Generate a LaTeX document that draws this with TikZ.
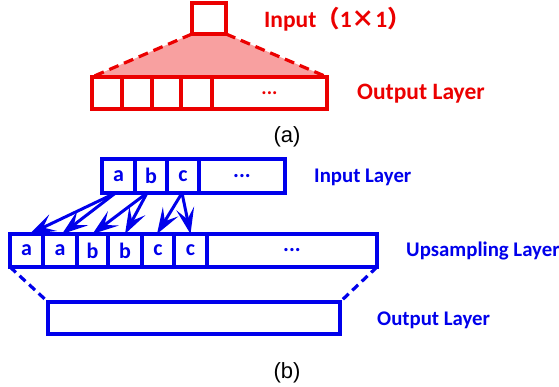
\documentclass[tikz,border=0pt]{standalone}
\usepackage{fontspec}
\setmainfont{Carlito}
\newfontfamily\cjkfont{Noto Sans CJK SC}
\newfontfamily\arialfont{Liberation Sans}
\usetikzlibrary{arrows.meta}
\definecolor{myred}{RGB}{235,0,0}
\definecolor{mypink}{RGB}{248,160,160}
\definecolor{myblue}{RGB}{0,0,235}
\tikzset{
  rcell/.style={draw=myred, line width=3.2pt, inner sep=0pt, outer sep=0pt, minimum height=32pt},
  bcell/.style={draw=myblue, line width=3.2pt, inner sep=0pt, outer sep=0pt, minimum height=33pt, text=myblue, font=\fontsize{22}{22}\selectfont\bfseries},
  rlabel/.style={text=myred, font=\fontsize{23.5}{23.5}\selectfont\bfseries, inner sep=0pt, anchor=base west},
  blabel/.style={text=myblue, font=\fontsize{20.8}{20.8}\selectfont\bfseries, inner sep=0pt, anchor=base west},
  caplabel/.style={font=\arialfont\fontsize{22}{22}\selectfont, inner sep=0pt, anchor=base},
  upar/.style={draw=myblue, line width=3pt, arrows={-Stealth[length=26pt, width=18pt, inset=11pt]}},
  rdash/.style={draw=myred, line width=3.2pt, dash pattern=on 10pt off 6pt},
  bdash/.style={draw=myblue, line width=3.2pt, dash pattern=on 8pt off 5pt}
}
\begin{document}
\begin{tikzpicture}[x=1pt,y=-1pt]
\useasboundingbox (0,0) rectangle (559,387);
% ---------- (a) ----------
\fill[mypink] (192,34) -- (226,34) -- (327,77) -- (92,77) -- cycle;
\node[rcell, minimum width=34pt, minimum height=31pt] (inA) at (209,18.5) {};
\node[rcell, minimum width=30pt] (o1) at (107,93) {};
\node[rcell, minimum width=30pt] (o2) at (137,93) {};
\node[rcell, minimum width=29pt] (o3) at (166.5,93) {};
\node[rcell, minimum width=31pt] (o4) at (196.5,93) {};
\node[rcell, minimum width=115pt, text=myred, font=\fontsize{20}{20}\selectfont\bfseries] (o5) at (269.5,93) {...};
\draw[rdash] (inA.south west) -- (o1.north west);
\draw[rdash] (inA.south east) -- (o5.north east);
\node[rlabel] (inlab) at (264,28) {Input{\cjkfont（}1{\cjkfont ×}1{\cjkfont ）}};
\node[rlabel] (outlab) at (357,100) {Output Layer};
\node[caplabel] (capa) at (287,143) {(a)};
% ---------- (b) ----------
\node[bcell, minimum width=33pt, minimum height=34pt] (ia) at (118.5,176) {a};
\node[bcell, minimum width=32pt, minimum height=34pt] (ib) at (151,176) {b};
\node[bcell, minimum width=32pt, minimum height=34pt] (ic) at (183,176) {c};
\node[bcell, minimum width=86pt, minimum height=34pt] (id) at (242,176) {...};
\node[bcell, minimum width=33pt] (u1) at (26.5,250.5) {a};
\node[bcell, minimum width=34pt] (u2) at (60,250.5) {a};
\node[bcell, minimum width=31pt] (u3) at (92.5,250.5) {b};
\node[bcell, minimum width=34pt] (u4) at (125,250.5) {b};
\node[bcell, minimum width=32pt] (u5) at (158,250.5) {c};
\node[bcell, minimum width=33pt] (u6) at (190.5,250.5) {c};
\node[bcell, minimum width=170pt] (u7) at (292,250.5) {...};
\node[bcell, minimum width=292pt, minimum height=32pt] (ol) at (194,318) {};
\draw[bdash] (u1.south west) -- (ol.north west);
\draw[bdash] (u7.south east) -- (ol.north east);
\draw[upar] ([xshift=-3pt]ia.south) -- ([xshift=3pt]u1.north);
\draw[upar] ([xshift=-3pt]ia.south) -- ([xshift=2pt]u2.north);
\draw[upar] ([xshift=-4pt]ib.south) -- (u3.north);
\draw[upar] ([xshift=-4pt]ib.south) -- (u4.north);
\draw[upar] ([xshift=-1pt]ic.south) -- ([xshift=-1pt]u5.north);
\draw[upar] ([xshift=-1pt]ic.south) -- (u6.north);
\node[blabel] (inlayer) at (314,183) {Input Layer};
\node[blabel] (uplayer) at (406,257) {Upsampling Layer};
\node[blabel] (outlayer) at (377,325) {Output Layer};
\node[caplabel] (capb) at (287,378) {(b)};
\end{tikzpicture}
\end{document}
